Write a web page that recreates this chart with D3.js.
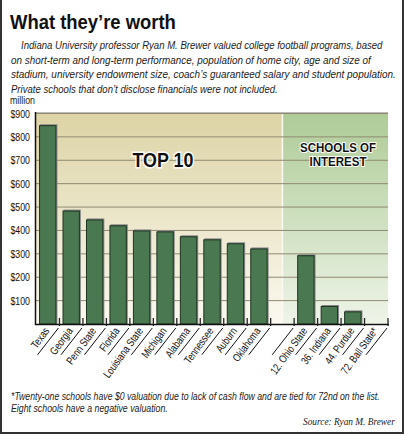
<!DOCTYPE html>
<html><head><meta charset="utf-8">
<script src="https://cdn.jsdelivr.net/npm/d3@7"></script>
<style>
html,body{margin:0;padding:0;background:#fff;}
svg{display:block;}
</style></head><body>
<script>
const top10Schools = ["Texas","Georgia","Penn State","Florida","Louisiana State","Michigan","Alabama","Tennessee","Auburn","Oklahoma"];
const top10Values = [850,485,447,422,400,396,375,362,345,323];
const interestSchools = ["12. Ohio State","36. Indiana","44. Purdue","72. Ball State*"];
const interestValues = [294,77,54,0];
const yTicks = [100,200,300,400,500,600,700,800,900];
const titleText = "What they\u2019re worth";
const introLines = [
 "Indiana University professor Ryan M. Brewer valued college football programs, based",
 "on short-term and long-term performance, population of home city, age and size of",
 "stadium, university endowment size, coach\u2019s guaranteed salary and student population.",
 "Private schools that don\u2019t disclose financials were not included."];
const introWidths = [362,360,385,267];
const footLines = [
 "*Twenty-one schools have $0 valuation due to lack of cash flow and are tied for 72nd on the list.",
 "Eight schools have a negative valuation."];
const footWidths = [369,157];
const sourceText = "Source: Ryan M. Brewer";

const W=405,H=436;
const sans = "'Liberation Sans',Arial,sans-serif";
const svg=d3.select("body").append("svg").attr("width",W).attr("height",H);

// fit a text horizontally to a target width by scaling it (keeps glyph height)
function fitText(sel, xPos, yPos, target){
  sel.each(function(d,i){
    const t=d3.select(this);
    const len=this.getComputedTextLength();
    const tw=typeof target==="function"?target(d,i):target;
    const xx=typeof xPos==="function"?xPos(d,i):xPos;
    const yy=typeof yPos==="function"?yPos(d,i):yPos;
    t.attr("x",0).attr("y",0).attr("transform",`translate(${xx},${yy}) scale(${tw/len},1)`);
  });
}

const defs=svg.append("defs");
const g1=defs.append("linearGradient").attr("id","gTan").attr("x1",0).attr("y1",0).attr("x2",0).attr("y2",1);
g1.append("stop").attr("offset","0%").attr("stop-color","#dcd3a5");
g1.append("stop").attr("offset","100%").attr("stop-color","#fbf9f0");
const g2=defs.append("linearGradient").attr("id","gGreen").attr("x1",0).attr("y1",0).attr("x2",0).attr("y2",1);
g2.append("stop").attr("offset","0%").attr("stop-color","#aecb97");
g2.append("stop").attr("offset","100%").attr("stop-color","#eef4e8");

// border
svg.append("rect").attr("x",1).attr("y",-2).attr("width",W-3).attr("height",H-1)
 .attr("fill","none").attr("stroke","#333").attr("stroke-width",2);

const title=svg.append("text").text(titleText)
 .attr("font-family",sans).attr("font-weight","bold").attr("font-size",20.5).attr("fill","#111");
fitText(title,10,29,166);

const intro=svg.append("g").selectAll("text").data(introLines).join("text")
 .attr("font-family",sans).attr("font-style","italic").attr("font-size",11).attr("fill","#222")
 .text(d=>d);
fitText(intro,(d,i)=>i===0?21:11,(d,i)=>49+i*14.6,(d,i)=>introWidths[i]);

const mil=svg.append("text").text("million")
 .attr("font-family",sans).attr("font-size",10).attr("fill","#222");
fitText(mil,10,104,25);

const cats=[...top10Schools,"__gap__",...interestSchools];
const vals=[...top10Values,null,...interestValues];
const data=cats.map((c,i)=>({c,v:vals[i]}));

const x0=36,x1=388,yTop=112,yBase=324;
const x=d3.scaleBand().domain(cats).range([x0,x1]).paddingInner(0.26).paddingOuter(0.13);
const y=d3.scaleLinear().domain([0,900]).range([yBase,113.5]);
const step=x.step();
const divX=(x("__gap__")+x.bandwidth()/2);

svg.append("rect").attr("x",x0).attr("y",yTop).attr("width",divX-x0).attr("height",yBase-yTop).attr("fill","url(#gTan)");
svg.append("rect").attr("x",divX).attr("y",yTop).attr("width",x1-divX).attr("height",yBase-yTop).attr("fill","url(#gGreen)");
svg.append("line").attr("x1",divX).attr("x2",divX).attr("y1",yTop).attr("y2",yBase).attr("stroke","#fbfaf2").attr("stroke-width",1.5);
svg.append("line").attr("x1",x0).attr("x2",x1).attr("y1",yTop+0.5).attr("y2",yTop+0.5).attr("stroke","#bbb");

// gridlines
svg.append("g").selectAll("line").data(yTicks).join("line")
 .attr("x1",x0).attr("x2",x1).attr("y1",d=>y(d)).attr("y2",d=>y(d))
 .attr("stroke","#8f8a70").attr("stroke-width",1);

// y axis
const yAxis=d3.axisLeft(y).tickValues(yTicks).tickSize(0).tickPadding(5).tickFormat(d=>"$"+d);
const ya=svg.append("g").attr("transform",`translate(${x0-1},0)`).call(yAxis);
ya.select(".domain").remove();
ya.selectAll("text").attr("font-family",sans).attr("font-size",11).attr("fill","#111")
 .attr("textLength",19.5).attr("lengthAdjust","spacingAndGlyphs");
svg.append("line").attr("x1",x0-0.5).attr("x2",x0-0.5).attr("y1",yTop).attr("y2",yBase+1).attr("stroke","#111").attr("stroke-width",1.5);

svg.append("text").attr("x",163).attr("y",167).attr("text-anchor","middle")
 .attr("font-family",sans).attr("font-weight","bold").attr("font-size",21)
 .attr("textLength",61).attr("lengthAdjust","spacingAndGlyphs")
 .attr("fill","#111").attr("stroke","#fff").attr("stroke-width",3).attr("paint-order","stroke").text("TOP 10");
const soiX=338;
svg.append("text").attr("x",soiX).attr("y",152).attr("text-anchor","middle")
 .attr("font-family",sans).attr("font-weight","bold").attr("font-size",13)
 .attr("textLength",76).attr("lengthAdjust","spacingAndGlyphs")
 .attr("fill","#111").attr("stroke","#fff").attr("stroke-width",2).attr("paint-order","stroke").text("SCHOOLS OF");
svg.append("text").attr("x",soiX).attr("y",166).attr("text-anchor","middle")
 .attr("font-family",sans).attr("font-weight","bold").attr("font-size",13)
 .attr("textLength",57).attr("lengthAdjust","spacingAndGlyphs")
 .attr("fill","#111").attr("stroke","#fff").attr("stroke-width",2).attr("paint-order","stroke").text("INTEREST");

// bars
const barData=data.filter(d=>d.v!==null&&d.v>0);
svg.append("g").selectAll("rect.sh").data(barData).join("rect")
 .attr("x",d=>x(d.c)+1).attr("y",d=>y(d.v)-1).attr("width",x.bandwidth()).attr("height",d=>yBase-y(d.v)+1)
 .attr("fill","#888");
svg.append("g").selectAll("rect.b").data(barData).join("rect")
 .attr("x",d=>x(d.c)+0.5).attr("y",d=>y(d.v)+0.5).attr("width",x.bandwidth()-1).attr("height",d=>yBase-y(d.v)-0.5)
 .attr("fill","#4a7851").attr("stroke","#1e3522").attr("stroke-width",1);

// baseline
svg.append("line").attr("x1",x0-1).attr("x2",x1+1).attr("y1",yBase+0.5).attr("y2",yBase+0.5).attr("stroke","#111").attr("stroke-width",1.5);

// ticks and diagonal label lines
const ang=52*Math.PI/180, L=34;
const tg=svg.append("g");
data.forEach(d=>{
  const xr=x(d.c)-x.step()*x.paddingInner()/2+step;
  tg.append("line").attr("x1",xr).attr("x2",xr).attr("y1",yBase-6).attr("y2",yBase+2).attr("stroke","#222").attr("stroke-width",1.3);
  tg.append("line").attr("x1",xr-1).attr("y1",yBase+4).attr("x2",xr-1-L*Math.cos(ang)).attr("y2",yBase+4+L*Math.sin(ang))
   .attr("stroke","#111").attr("stroke-width",1);
});
svg.append("g").selectAll("text").data(data.filter(d=>d.v!==null)).join("text")
 .attr("transform",d=>`translate(${x(d.c)+x.bandwidth()/2+2},${yBase+7}) rotate(-54) scale(0.78,1)`)
 .attr("text-anchor","end").attr("font-family",sans).attr("font-size",11).attr("fill","#111")
 .text(d=>d.c);

const foot=svg.append("g").selectAll("text").data(footLines).join("text")
 .attr("font-family",sans).attr("font-style","italic").attr("font-size",10.3).attr("fill","#222").text(d=>d);
fitText(foot,11,(d,i)=>400+i*11.5,(d,i)=>footWidths[i]);
const src=svg.append("text").text(sourceText)
 .attr("font-family","'Liberation Serif','DejaVu Serif',serif").attr("font-style","italic").attr("font-size",10.5).attr("fill","#222");
fitText(src,303,425,92);
</script>
</body></html>
